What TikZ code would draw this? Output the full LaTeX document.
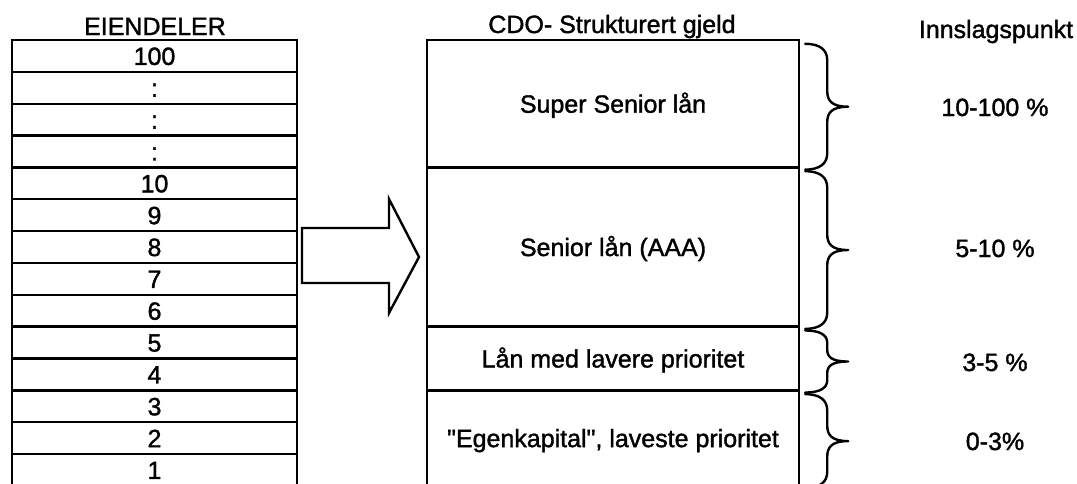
\documentclass[tikz,border=0pt]{standalone}
\usepackage{fontspec}
\setmainfont{Liberation Sans}[Ligatures=TeXOff, FakeBold=1.4]
\usetikzlibrary{calc}
\newcommand\tbrace[2]{% #1 node name, #2 hook size
\draw[bracestyle] let \p1=($(#1.north east)+(5pt,-5pt)$), \p2=($(#1.south east)+(5pt,-1pt)$), \p3=($(\p1)!.5!(\p2)$) in
 (\x1,\y1) .. controls (\x1+15pt,\y1) and (\x1+22pt,\y1-0.4*#2) .. (\x1+22pt,\y1-#2)
 -- (\x1+22pt,\y3+#2) .. controls (\x1+22pt,\y3+0.4*#2) and (\x1+26pt,\y3) .. (\x1+43pt,\y3)
 .. controls (\x1+26pt,\y3) and (\x1+22pt,\y3-0.4*#2) .. (\x1+22pt,\y3-#2)
 -- (\x1+22pt,\y2+#2) .. controls (\x1+22pt,\y2+0.4*#2) and (\x1+15pt,\y2) .. (\x1,\y2);
}
\begin{document}
\begin{tikzpicture}[x=1pt,y=-1pt,
  every node/.style={font=\fontsize{25pt}{30pt}\selectfont},
  rowbox/.style={draw, line width=2.4pt, minimum width=285pt, minimum height=31.85pt, inner sep=0pt, text height=18pt, text depth=0pt},
  tranche/.style={draw, line width=2.4pt, minimum width=372pt, inner sep=0pt, text height=18pt, text depth=0pt},
  lbl/.style={inner sep=0pt, anchor=base},
  bracestyle/.style={line width=2.4pt, line cap=round, line join=round},
  arrowshape/.style={draw, line width=2.4pt, line join=miter}
]
\useasboundingbox (0,0) rectangle (1077,483);
% left stack
\foreach \t [count=\i from 0] in {100,:,:,:,10,9,8,7,6,5,4,3,2,1}
  \node[rowbox] (r\i) at (154.5, {40+31.85*(\i+0.5)}) {\t};
% tranches
\node[tranche, minimum height=127.4pt] (ss) at (613,103.7) {Super Senior lån};
\node[tranche, minimum height=159.25pt] (sn) at (613,247.025) {Senior lån (AAA)};
\node[tranche, minimum height=63.7pt] (lm) at (613,358.5) {Lån med lavere prioritet};
\node[tranche, minimum height=95.55pt] (ek) at (613,438.1) {"Egenkapital", laveste prioritet};
% headers
\node[lbl] (h1) at (155,35) {EIENDELER};
\node[lbl] (h2) at (612,33) {CDO- Strukturert gjeld};
\node[lbl] (h3) at (996,38) {Innslagspunkt};
% percentages
\node[lbl] (p1) at (995,116) {10-100 \%};
\node[lbl] (p2) at (995,257) {5-10 \%};
\node[lbl] (p3) at (995,371) {3-5 \%};
\node[lbl] (p4) at (995,450) {0-3\%};
% big arrow
\draw[arrowshape] (302,228) -- (389,228) -- (389,199) -- (419,257) -- (389,313) -- (389,283) -- (302,283) -- cycle;
% braces
\tbrace{ss}{16pt}
\tbrace{sn}{16pt}
\tbrace{lm}{12pt}
\tbrace{ek}{16pt}
\end{tikzpicture}
\end{document}
